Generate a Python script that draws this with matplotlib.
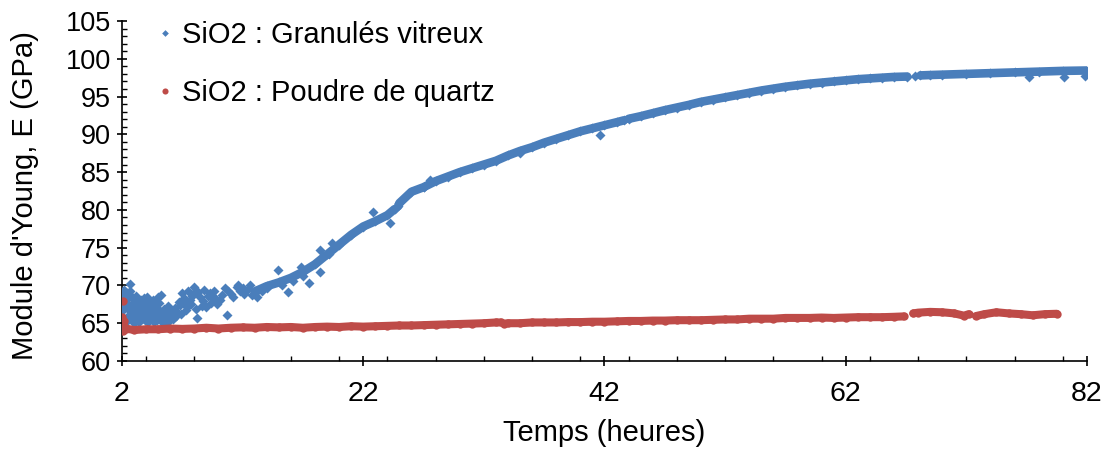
import numpy as np
import matplotlib
matplotlib.use("Agg")
import matplotlib.pyplot as plt
from matplotlib.ticker import MultipleLocator, FixedLocator
from matplotlib.lines import Line2D

plt.rcParams['font.family'] = ['Liberation Sans', 'DejaVu Sans']

nan = np.nan

# --- SiO2 : Granulés vitreux -------------------------------------------
# continuous band (hours, GPa); nan marks gaps in the recording
glass_t = [13, 14, 15, 16, 17, 18, 19, 20, 21, 22, 23, 24, 24.6, nan, 24.9, 25, 26, 27,
           28, 29, 30, 31, 32, 33, 34, 35, 36, 37, 38, 39, 40, 41, 42, 43, 43.6, nan,
           44.0, 45, 46, 47, 48, 49, 50, 51, 52, 53, 54, 55, 56, 57, 58, 59, 60,
           61, 62, 63, 64, 65, 66, 67.1, nan, 68.2, 69, 70, 72, 74, 76, 78, 80, 82]
glass_E = [69.2, 69.9, 70.4, 71.0, 71.8, 72.8, 74.1, 75.4, 76.7, 77.8, 78.5, 79.3, 80.1, nan, 80.5, 80.9, 82.4, 83.0,
           83.8, 84.4, 85.0, 85.5, 86.0, 86.5, 87.2, 87.8, 88.3, 88.9, 89.4, 89.9, 90.4, 90.8, 91.2, 91.6, 91.85, nan,
           92.05, 92.4, 92.8, 93.2, 93.55, 93.9, 94.3, 94.6, 94.9, 95.2, 95.5, 95.8, 96.05, 96.3, 96.5, 96.7, 96.85,
           97.0, 97.15, 97.3, 97.4, 97.5, 97.6, 97.65, nan, 97.8, 97.85, 97.9, 98.0, 98.1, 98.2, 98.3, 98.4, 98.45]

# scattered early measurements and isolated readings
glass_pts_t = [2.0, 2.0, 2.05, 2.1, 2.15, 2.2, 2.3, 2.4, 2.5, 2.66, 2.7, 2.8, 2.9, 3.0, 3.1, 3.2,
               3.3, 3.4, 3.5, 3.6, 3.7, 3.8, 3.9, 4.0, 4.1, 4.2, 4.3, 4.4, 4.5, 4.6, 4.7, 4.8,
               4.9, 5.0, 5.1, 5.3, 5.5, 5.7, 5.8, 6.1, 6.3, 6.6, 6.8, 7.0, 7.2, 7.4, 7.6, 7.8,
               8.0, 8.2, 8.5, 8.7, 9.0, 9.3, 9.5, 9.7, 10.1, 10.5, 10.7, 11.0, 11.5, 11.8,
               12.1, 12.4, 12.8, 13.2, 14.0, 14.9, 15.3, 15.8, 16.2, 16.8, 17.0, 17.5,
               18.4, 18.4, 19.2, 19.4, 22.8, 24.2, 25.6, 27.0, 27.5, 35.0, 41.6, 67.75,
               77.2, 80.1, 81.8,
               2.3, 2.4, 2.5, 2.55, 2.6, 2.7, 2.75, 2.85, 2.9, 3.0, 3.05, 3.15, 3.2, 3.25,
               3.35, 3.45, 3.5, 3.55, 3.65, 3.75, 3.85, 3.9, 3.95, 4.05, 4.15, 4.25, 4.35,
               4.45, 4.55, 4.65, 4.75, 4.85, 4.95, 5.05, 5.15, 5.2, 5.25, 5.35, 5.45, 5.6,
               5.75, 5.9, 6.0, 6.2, 6.4, 6.5, 6.7, 6.9, 7.1, 7.3, 7.5, 7.7, 7.9, 8.1, 8.3,
               8.6, 8.8, 9.1, 9.4, 9.6, 9.9, 10.3, 10.8, 11.2, 11.6, 12.0, 12.6, 13.0, 13.6]
glass_pts_E = [65.5, 66.6, 67.8, 68.9, 69.4, 67.2, 68.3, 69.0, 66.0, 70.2, 68.7, 67.6, 65.4, 66.3, 67.9, 66.9,
               65.3, 66.0, 67.2, 68.1, 66.5, 65.6, 67.5, 66.2, 68.5, 65.8, 66.9, 67.6, 65.5, 66.4, 67.1, 66.0,
               65.4, 68.5, 66.8, 65.2, 66.3, 65.2, 67.3, 65.7, 66.1, 66.5, 67.4, 69.0, 67.9, 67.1, 68.1, 68.6,
               69.8, 65.7, 68.5, 67.9, 67.1, 69.0, 68.4, 68.3, 68.1, 69.7, 66.1, 68.9, 69.8, 69.2,
               68.9, 69.4, 68.8, 68.5, 69.7, 72.0, 70.0, 69.1, 70.6, 72.4, 71.2, 70.3,
               71.8, 74.7, 74.2, 75.6, 79.7, 78.3, 82.0, 83.0, 83.9, 87.5, 89.9, 97.7,
               97.6, 97.6, 97.7,
               65.2, 67.6, 68.4, 65.9, 66.8, 69.3, 65.6, 66.9, 68.2, 65.0, 67.3, 68.6, 65.7, 66.4,
               67.7, 65.2, 66.8, 68.0, 65.9, 67.0, 68.3, 65.4, 66.6, 67.3, 65.1, 67.9, 66.3,
               65.7, 68.1, 65.2, 66.7, 67.4, 65.9, 67.7, 65.5, 66.5, 68.8, 65.8, 66.9, 65.4,
               66.0, 65.3, 66.8, 65.5, 67.0, 65.9, 67.8, 66.2, 68.3, 66.8, 69.2, 67.5, 68.9, 66.9, 69.1,
               67.3, 69.4, 68.6, 67.7, 69.3, 67.5, 68.8, 69.2, 68.5, 70.0, 69.6, 70.0, 69.0, 69.3]

# --- SiO2 : Poudre de quartz ---------------------------------------------
quartz_t = [2.0, 2.1, 2.3, 3, 4, 5, 6, 7, 8, 9, 10, 11, 12, 13, 14, 15, 16, 17, 18, 19,
            20, 21, 22, 23, 24, 25, 26, 27, 28, 29, 30, 31, 32, 33, 33.4, nan, 33.7, 34, 35,
            36, 37, 38, 39, 40, 41, 42, 43, 44, 45, 46, 47, 48, 49, 50, 51, 52, 53, 54,
            55, 56, 57, 58, 59, 60, 61, 62, 63, 64, 65, 66, 66.8, nan, 67.6, 68, 69, 70,
            71, 71.8, 72.2, nan, 72.8, 73.5, 74.5, 75.5, 76.5, 77.5, 78.5, 79.5]
quartz_E = [65.3, 64.8, 64.3, 64.1, 64.2, 64.2, 64.3, 64.25, 64.3, 64.4, 64.3, 64.4, 64.45, 64.4, 64.5, 64.45, 64.5, 64.4, 64.5, 64.55,
            64.5, 64.6, 64.55, 64.6, 64.65, 64.7, 64.7, 64.75, 64.8, 64.85, 64.9, 64.95, 65.0, 65.1, 65.1, nan, 64.95, 65.0, 65.0,
            65.1, 65.1, 65.1, 65.15, 65.15, 65.2, 65.2, 65.25, 65.3, 65.3, 65.35, 65.35, 65.4, 65.4, 65.4, 65.45, 65.5, 65.5, 65.6,
            65.6, 65.6, 65.7, 65.7, 65.7, 65.75, 65.7, 65.75, 65.8, 65.8, 65.8, 65.85, 65.9, nan, 66.3, 66.4, 66.5, 66.45,
            66.3, 66.0, 66.2, nan, 65.95, 66.2, 66.45, 66.3, 66.2, 66.05, 66.2, 66.25]

quartz_pts_t = [2.0, 2.0, 2.05, 2.1, 2.15, 2.2, 2.05]
quartz_pts_E = [64.5, 65.8, 65.0, 68.0, 64.6, 65.3, 64.0]

x_ticks = [2, 22, 42, 62, 82]

BLUE = '#4A7EBB'
RED = '#BE4B48'
FS_LABEL = 21
FS_XTICK = 20.5
FS_YTICK = 19.5

fig = plt.figure(figsize=(11.08, 4.5), dpi=100)
ax = fig.add_axes([0.1101, 0.1978, 0.9810 - 0.1101, 0.9533 - 0.1978])

# glass granules: dense band plus scattered diamonds
ax.plot(glass_t, glass_E, color=BLUE, lw=6.2, solid_capstyle='round',
        marker='D', ms=4.7, mec='none', mfc=BLUE, zorder=3)
ax.plot(glass_pts_t, glass_pts_E, ls='none', marker='D', ms=4.7,
        mec='none', mfc=BLUE, zorder=3)

# quartz powder: dense band of circles
ax.plot(quartz_t, quartz_E, color=RED, lw=5.8, solid_capstyle='round',
        marker='o', ms=6.0, mec='none', mfc=RED, zorder=4)
ax.plot(quartz_pts_t, quartz_pts_E, ls='none', marker='o', ms=6.0,
        mec='none', mfc=RED, zorder=4)

ax.set_xlim(2, 82)
ax.set_ylim(60, 105)
ax.xaxis.set_major_locator(FixedLocator(x_ticks))
ax.xaxis.set_minor_locator(MultipleLocator(4))
ax.yaxis.set_major_locator(MultipleLocator(5))
ax.yaxis.set_minor_locator(MultipleLocator(1))

for s in ('top', 'right'):
    ax.spines[s].set_visible(False)
for s in ('left', 'bottom'):
    ax.spines[s].set_linewidth(1.2)
    ax.spines[s].set_clip_on(False)

ax.tick_params(axis='both', which='major', direction='inout', length=7.5,
               width=1.2, color='black')
ax.tick_params(axis='both', which='minor', direction='in', length=3.8,
               width=1.0, color='black')
ax.tick_params(axis='x', which='major', pad=11, labelsize=FS_XTICK)
ax.tick_params(axis='y', which='major', pad=4, labelsize=FS_YTICK)

ax.set_xlabel('Temps (heures)', fontsize=FS_LABEL)
ax.set_ylabel("Module d'Young, E (GPa)", fontsize=FS_LABEL)
ax.xaxis.set_label_coords(0.5, -0.172)
ax.yaxis.set_label_coords(-0.086, 0.488)

handles = [Line2D([], [], ls='none', marker='D', ms=3.4, mec='none', mfc=BLUE),
           Line2D([], [], ls='none', marker='o', ms=4.4, mec='none', mfc=RED)]
ax.legend(handles, ['SiO2 : Granulés vitreux', 'SiO2 : Poudre de quartz'],
          loc='upper left', bbox_to_anchor=(0.0245, 1.034), frameon=False,
          fontsize=FS_LABEL, labelspacing=1.03, handlelength=0.5, handletextpad=0.33,
          borderaxespad=0)

fig.savefig('out.png', dpi=100)
